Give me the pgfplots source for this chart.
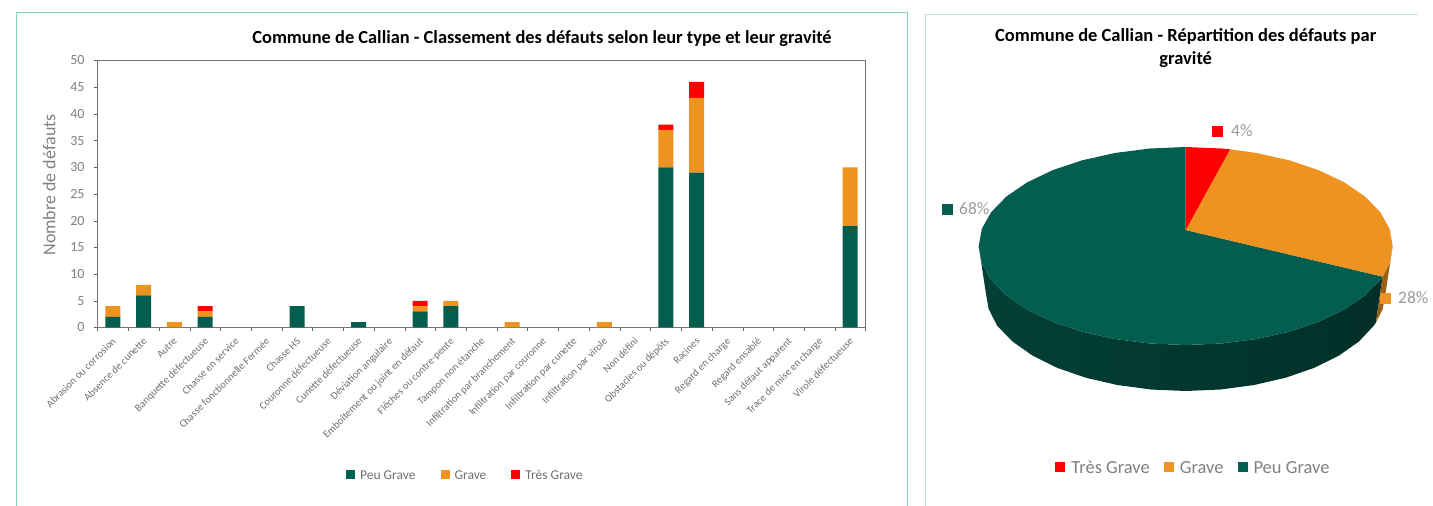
\documentclass[border=0pt]{standalone}
\usepackage{fontspec}
\setmainfont{Carlito}
\usepackage{pgfplots}
\usepackage{pgfplotstable}
\pgfplotsset{compat=1.18}
\definecolor{peu}{HTML}{035E50}
\definecolor{grv}{HTML}{EF9320}
\definecolor{tres}{HTML}{FF0000}
\definecolor{txt}{HTML}{808080}
\definecolor{txtB}{HTML}{6F6F6F}
\definecolor{txtC}{HTML}{9A9A9A}
\definecolor{frameA}{HTML}{84D8BF}
\definecolor{frameB}{HTML}{BFE0DA}

\pgfplotstableread{
x peu grave tres
0 2 2 0
1 6 2 0
2 0 1 0
3 2 1 1
4 0 0 0
5 0 0 0
6 4 0 0
7 0 0 0
8 1 0 0
9 0 0 0
10 3 1 1
11 4 1 0
12 0 0 0
13 0 1 0
14 0 0 0
15 0 0 0
16 0 1 0
17 0 0 0
18 30 7 1
19 29 14 3
20 0 0 0
21 0 0 0
22 0 0 0
23 0 0 0
24 19 11 0
}\defauts

\begin{document}
\begin{tikzpicture}[x=1pt,y=1pt]
\useasboundingbox (0,0) rectangle (1433,506);
% cadres
\draw[frameA,line width=1pt] (16,0) -- (16,493) -- (907.7,493) -- (907.7,0);
\draw[frameB,line width=1pt] (925.5,0) -- (925.5,491.5) -- (1418,491.5);

\begin{axis}[
name=bars,
at={(97.5pt,178.5pt)},
anchor=south west,
scale only axis,
width=768pt,
height=267pt,
clip=false,
ybar stacked,
bar width=15pt,
xmin=-0.5,xmax=24.5,
ymin=0,ymax=50,
ytick={0,5,...,50},
xtick={0,...,24},
minor xtick={-0.5,0.5,...,24.5},
xticklabels={Abrasion ou corrosion,Absence de cunette,Autre,Banquette défectueuse,Chasse en service,Chasse fonctionnelle Fermée,Chasse HS,Couronne défectueuse,Cunette défectueuse,Déviation angulaire,Emboîtement ou joint en défaut,Flèches ou contre-pente,Tampon non étanche,Infiltration par branchement,Infiltration par couronne,Infiltration par cunette,Infiltration par virole,Non défini,Obstacles ou dépôts,Racines,Regard en charge,Regard ensablé,Sans défaut apparent,Trace de mise en charge,Virole défectueuse},
xtick pos=bottom,
ytick pos=left,
tick align=outside,
major tick length=3.5pt,
minor tick length=3.5pt,
major x tick style={draw=none},
tick style={black!60},
minor tick style={black!60},
axis line style={black!55,line width=0.8pt},
/pgf/number format/assume math mode=true,
x tick label style={rotate=45,anchor=north east,font=\fontsize{10.5}{12}\selectfont,text=txtB,inner sep=1pt,xshift=-4pt,yshift=-2pt},
y tick label style={font=\fontsize{14}{16}\selectfont,text=txt,xshift=-6pt},
ylabel={Nombre de défauts},
ylabel style={font=\fontsize{18}{20}\selectfont,text=txt},
every axis y label/.append style={at={(ticklabel cs:0.5)},yshift=8pt,xshift=9pt},
legend style={draw=none,fill=none,at={(0.479,-0.552)},anchor=center,font=\fontsize{13.5}{15}\selectfont,text=txtB,legend columns=3,/tikz/every even column/.append style={column sep=23pt},/tikz/every odd column/.append style={column sep=3pt}},
legend image code/.code={\path[#1,draw=none] (0pt,-4.5pt) rectangle (9pt,4.5pt);},
legend cell align={left},
]
\addplot[fill=peu,draw=none] table[x=x,y=peu] {\defauts};
\addplot[fill=grv,draw=none] table[x=x,y=grave] {\defauts};
\addplot[fill=tres,draw=none] table[x=x,y=tres] {\defauts};
\legend{\strut Peu Grave,\strut Grave,\strut Très Grave}
\node[font=\bfseries\fontsize{18.4}{20}\selectfont,text=black] at (rel axis cs:0.5788,1.082) {Commune de Callian - Classement des défauts selon leur type et leur gravité};
\end{axis}

% camembert: axe en pixels de l'image
\begin{axis}[
at={(925pt,0pt)},
anchor=south west,
scale only axis,
width=508pt,
height=492pt,
xmin=925,xmax=1433,
ymin=14,ymax=506,
y dir=reverse,
hide axis,
clip=false,
legend style={draw=none,fill=none,at={(0.5285,0.079)},anchor=center,font=\fontsize{18.5}{20}\selectfont,text=txt,legend columns=3,/tikz/every even column/.append style={column sep=12pt},/tikz/every odd column/.append style={column sep=4pt}},
legend image code/.code={\path[#1,draw=none] (0pt,-5pt) rectangle (10pt,5pt);},
legend cell align={left},
]
% flanc vert
\addplot[forget plot,draw=none,left color=peu!68!black,middle color=peu!42!black,right color=peu!50!black] coordinates {
(1382.6,276.6)(1380.2,279.9)(1365.0,295.5)(1344.3,309.6)(1318.8,321.8)(1289.2,331.7)(1256.5,339.0)(1221.6,343.5)(1185.7,345)(1149.8,343.5)(1114.9,339.0)(1082.2,331.7)(1052.6,321.8)(1027.1,309.6)(1006.4,295.5)(991.2,279.9)(981.8,263.2)(978.7,246)
(985.7,292)(988.7,309.2)(997.3,325.9)(1012.5,341.5)(1032.5,355.6)(1057.1,367.8)(1085.7,377.7)(1117.3,385.0)(1151.0,389.5)(1185.7,391)(1220.4,389.5)(1254.1,385.0)(1285.7,377.7)(1314.3,367.8)(1338.9,355.6)(1358.9,341.5)(1373.6,325.9)(1375.9,322.6)
} -- cycle;
% flanc orange
\addplot[forget plot,draw=none,fill=grv!65!black] coordinates {
(1392.7,246)(1389.6,263.2)(1382.6,276.6)(1375.9,322.6)(1382.7,309.2)(1385.7,292)
} -- cycle;
% dessus
\addplot[forget plot,draw=none,fill=peu] coordinates {
(1185.7,230)(1382.6,276.6)(1380.2,279.9)(1365.0,295.5)(1344.3,309.6)(1318.8,321.8)(1289.2,331.7)(1256.5,339.0)(1221.6,343.5)(1185.7,345)(1149.8,343.5)(1114.9,339.0)(1082.2,331.7)(1052.6,321.8)(1027.1,309.6)(1006.4,295.5)(991.2,279.9)(981.8,263.2)(978.7,246)(981.8,228.8)(991.2,212.1)(1006.4,196.5)(1027.1,182.4)(1052.6,170.2)(1082.2,160.3)(1114.9,153.0)(1149.8,148.5)(1185.7,147)
} -- cycle;
\addplot[forget plot,draw=none,fill=grv] coordinates {
(1185.7,230)(1230.1,149.3)(1256.5,153.0)(1289.2,160.3)(1318.8,170.2)(1344.3,182.4)(1365.0,196.5)(1380.2,212.1)(1389.6,228.8)(1392.7,246)(1389.6,263.2)(1382.6,276.6)
} -- cycle;
\addplot[forget plot,draw=none,fill=tres] coordinates {
(1185.7,230)(1185.7,147)(1221.6,148.5)(1230.1,149.3)
} -- cycle;
% etiquettes
\addplot[forget plot,only marks,mark=square*,mark size=5pt,mark options={draw=tres,fill=tres,line width=0pt}] coordinates {(1217.5,131)};
\addplot[forget plot,only marks,mark=square*,mark size=5pt,mark options={draw=peu,fill=peu,line width=0pt}] coordinates {(947,209)};
\addplot[forget plot,only marks,mark=square*,mark size=5pt,mark options={draw=grv,fill=grv,line width=0pt}] coordinates {(1385,298)};
\node[anchor=west,inner sep=0pt,font=\fontsize{17.5}{19}\selectfont,text=txtC] at (axis cs:1231,131) {4\%};
\node[anchor=west,inner sep=0pt,font=\fontsize{17.5}{19}\selectfont,text=txtC] at (axis cs:959,209) {68\%};
\node[anchor=west,inner sep=0pt,font=\fontsize{17.5}{19}\selectfont,text=txtC] at (axis cs:1398,298) {28\%};
\node[align=center,font=\bfseries\fontsize{18.5}{23}\selectfont,text=black] at (axis cs:1185.7,48) {Commune de Callian - Répartition des défauts par\\gravité};
\addlegendimage{fill=tres}
\addlegendentry{\strut Très Grave}
\addlegendimage{fill=grv}
\addlegendentry{\strut Grave}
\addlegendimage{fill=peu}
\addlegendentry{\strut Peu Grave}
\end{axis}
\end{tikzpicture}
\end{document}
